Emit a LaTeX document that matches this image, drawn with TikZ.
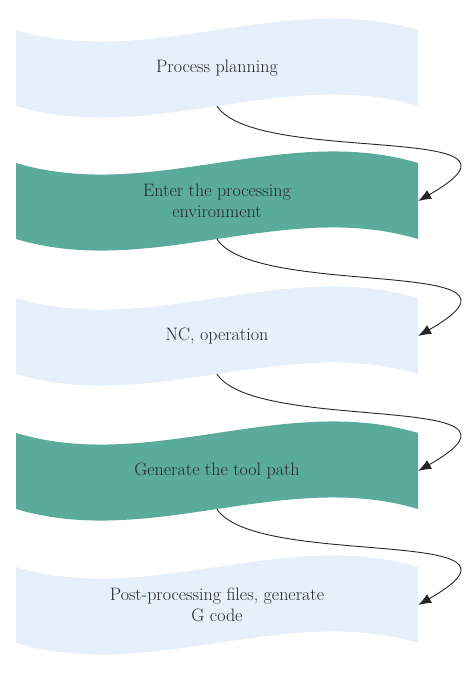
\documentclass[tikz,border=0pt]{standalone}
\usepackage{tikz}
\usetikzlibrary{arrows.meta,positioning}
\definecolor{paleblue}{HTML}{E6F0FB}
\definecolor{bandgreen}{HTML}{5BAB9C}
\definecolor{inkgrey}{HTML}{262626}

\tikzset{
  band/.style={minimum width=402pt, minimum height=76pt, align=center,
    text=inkgrey, font=\fontsize{18}{21}\selectfont},
  flow/.style={draw=inkgrey, line width=0.9pt, -{Latex[length=13pt,width=10pt]}}
}

\begin{document}
\begin{tikzpicture}[x=1pt,y=-1pt]
\useasboundingbox (0,0) rectangle (474,673);

% wavy bands
\foreach \t/\c in {30/paleblue,163/bandgreen,298/paleblue,433/bandgreen,567/paleblue}
  \fill[\c] (16,\t) .. controls (150,\t+40) and (284,\t-40) .. (418,\t)
    -- (418,\t+76) .. controls (284,\t+36) and (150,\t+116) .. (16,\t+76) -- cycle;

\node[band] (plan) at (217,68) {Process planning};
\node[band] (env) at (217,201) {Enter the processing\\environment};
\node[band] (nc) at (217,336) {NC, operation};
\node[band] (path) at (217,471) {Generate the tool path};
\node[band] (post) at (217,605) {Post-processing files, generate\\G code};

\draw[flow] (plan.south) .. controls +(40,60) and +(140,-80) .. (env.east);
\draw[flow] (env.south) .. controls +(40,60) and +(140,-80) .. (nc.east);
\draw[flow] (nc.south) .. controls +(40,60) and +(140,-80) .. (path.east);
\draw[flow] (path.south) .. controls +(40,60) and +(140,-80) .. (post.east);

\end{tikzpicture}
\end{document}
